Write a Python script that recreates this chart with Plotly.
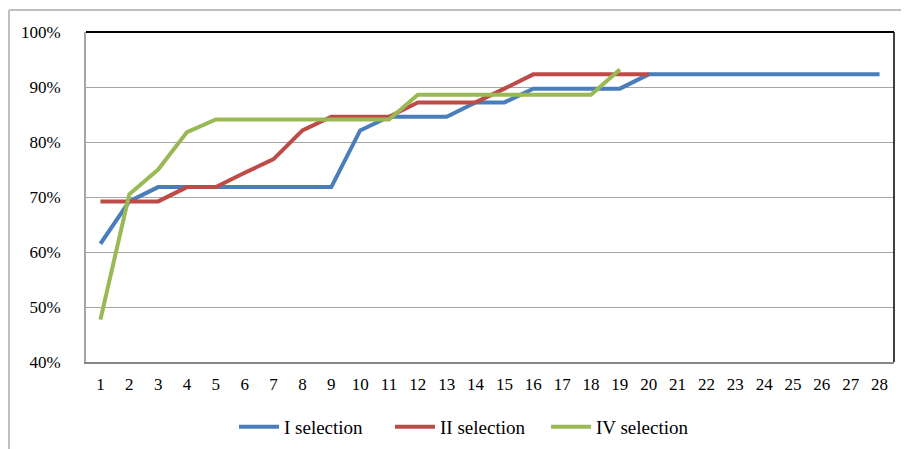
import plotly.graph_objects as go

categories = [str(i) for i in range(1, 29)]
sel_I = [61.5, 69.2, 71.8, 71.8, 71.8, 71.8, 71.8, 71.8, 71.8, 82.1, 84.6, 84.6, 84.6, 87.2,
         87.2, 89.7, 89.7, 89.7, 89.7, 92.3, 92.3, 92.3, 92.3, 92.3, 92.3, 92.3, 92.3, 92.3]
sel_II = [69.2, 69.2, 69.2, 71.8, 71.8, 74.4, 76.9, 82.1, 84.6, 84.6, 84.6, 87.2, 87.2, 87.2,
          89.7, 92.3, 92.3, 92.3, 92.3, 92.3]
sel_IV = [47.7, 70.5, 75.0, 81.8, 84.1, 84.1, 84.1, 84.1, 84.1, 84.1, 84.1, 88.6, 88.6, 88.6,
          88.6, 88.6, 88.6, 88.6, 93.2]
y_ticks = [40, 50, 60, 70, 80, 90, 100]
y_labels = [f"{v}%" for v in y_ticks]

series = [("I selection", sel_I, "#4A7EBB"),
          ("II selection", sel_II, "#BE4B48"),
          ("IV selection", sel_IV, "#98B954")]

fig = go.Figure()
for name, vals, col in series:
    fig.add_trace(go.Scatter(x=categories[:len(vals)], y=vals, mode="lines", name=name,
                             line=dict(color=col, width=4)))

# page body has an 8px margin: work in screen coords and shift by OFF
OFF = 8
W, H = 909 - OFF, 449 - OFF
L, T = 86 - OFF, 32 - OFF
R = W - (894 - OFF)
B = H - (362 - OFF)
pw, ph = W - L - R, H - T - B

def px(xs):
    return (xs - OFF - L) / pw

def py(ys):
    return (H - B - (ys - OFF)) / ph

fig.update_layout(
    width=W, height=H,
    margin=dict(l=L, r=R, t=T, b=B, autoexpand=False),
    paper_bgcolor="white", plot_bgcolor="white",
    font=dict(family="Liberation Serif", size=17, color="black"),
    showlegend=True,
    legend=dict(orientation="h", x=px(234), xanchor="left", y=py(427), yanchor="middle",
                font=dict(family="Liberation Serif", size=19), itemwidth=40,
                entrywidth=101, entrywidthmode="pixels",
                tracegroupgap=0, bgcolor="rgba(0,0,0,0)"),
    xaxis=dict(type="category", categoryorder="array", categoryarray=categories,
               range=[-0.5, 27.5], showgrid=False, showline=True, linecolor="#868686",
               linewidth=2, ticks="", ticklabelstandoff=6, zeroline=False, automargin=False,
               tickfont=dict(size=17)),
    yaxis=dict(range=[40, 100], tickvals=y_ticks, ticktext=y_labels, showgrid=True,
               gridcolor="#A6A6A6", gridwidth=1, showline=True, linecolor="#A6A6A6",
               linewidth=2, ticks="", ticklabelstandoff=20, zeroline=False, automargin=False,
               tickfont=dict(size=17)),
    shapes=[
        dict(type="line", xref="paper", yref="paper", x0=0, x1=1, y0=1, y1=1,
             line=dict(color="black", width=2)),
        dict(type="line", xref="paper", yref="paper", x0=1, x1=1, y0=0, y1=1,
             line=dict(color="black", width=1.5)),
        dict(type="line", xref="paper", yref="paper", x0=px(9), x1=px(909), y0=py(10), y1=py(10),
             line=dict(color="#BFBFBF", width=2)),
        dict(type="line", xref="paper", yref="paper", x0=px(9), x1=px(9), y0=py(10), y1=py(449),
             line=dict(color="#BFBFBF", width=2)),
    ],
)

fig.write_html("out.html")
